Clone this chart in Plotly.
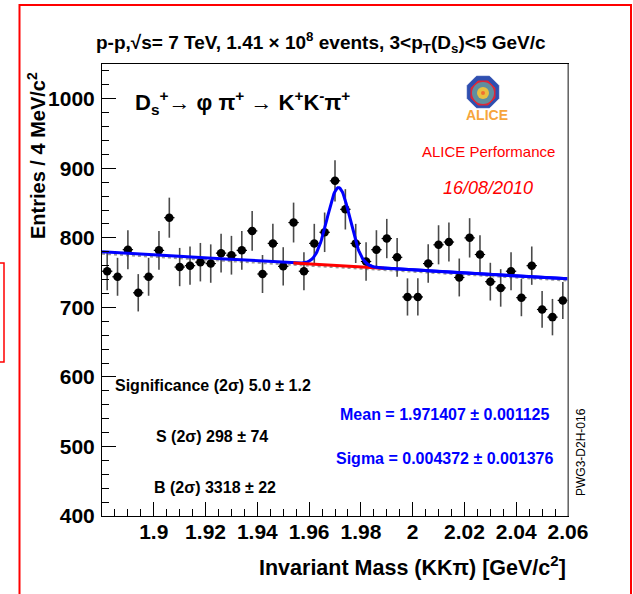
import numpy as np
import plotly.graph_objects as go

# ---------------- data ----------------
bin_width = 0.004
mass_centers = [round(1.882 + bin_width * i, 3) for i in range(45)]
entries = [752, 744, 783, 721, 744, 782, 829, 758, 760, 765,
           763, 778, 775, 782, 810, 748, 792, 759, 822, 752,
           792, 808, 882, 841, 792, 766, 783, 799, 772, 715,
           715, 763, 790, 794, 743, 800, 776, 737, 728, 752,
           714, 760, 697, 686, 710]

bg_left, bg_right = 780.0, 741.0          # total-fit background at 1.88 and 2.06
sb_left, sb_right = 777.0, 738.5          # side-band background fit (grey dotted)
gaus_mean = 1.971407
gaus_sigma = 0.004372
gaus_amp = 112.0

x_range = [1.88, 2.06]
y_range = [400, 1050]
x_tickvals = [1.9, 1.92, 1.94, 1.96, 1.98, 2.0, 2.02, 2.04, 2.06]
x_ticktext = ["1.9", "1.92", "1.94", "1.96", "1.98", "2", "2.02", "2.04", "2.06"]
y_tickvals = [400, 500, 600, 700, 800, 900, 1000]

# ---------------- helpers ----------------
L, R, T, B = 102, 568, 64, 516
W, H = R - L, B - T


def px(x):
    return (x - L) / W


def py(y):
    return (B - y) / H


def lin(x, a, b):
    return a + (b - a) * (np.asarray(x) - x_range[0]) / (x_range[1] - x_range[0])


FONT = "Liberation Sans"

fig = go.Figure()

xs = np.linspace(x_range[0], x_range[1], 600)
# grey dotted side-band fit
fig.add_trace(go.Scatter(x=xs, y=lin(xs, sb_left, sb_right), mode="lines",
                         line=dict(color="#9a9a9a", width=2, dash="dot"),
                         hoverinfo="skip", showlegend=False))

# data with errors
fig.add_trace(go.Scatter(
    x=mass_centers, y=entries, mode="markers",
    marker=dict(color="black", size=8.5),
    error_y=dict(type="data", array=list(np.sqrt(entries)), color="#4a4a4a",
                 thickness=1.6, width=0),
    error_x=dict(type="data", array=[bin_width / 2] * len(entries), color="black",
                 thickness=1.2, width=0),
    showlegend=False))

# total fit (blue)
fig.add_trace(go.Scatter(
    x=xs, y=lin(xs, bg_left, bg_right) + gaus_amp * np.exp(-0.5 * ((xs - gaus_mean) / gaus_sigma) ** 2),
    mode="lines", line=dict(color="#0000ff", width=3), showlegend=False))

# background under the peak (red), mean +- 4 sigma
xr = np.linspace(gaus_mean - 4 * gaus_sigma, gaus_mean + 4 * gaus_sigma, 100)
fig.add_trace(go.Scatter(x=xr, y=lin(xr, bg_left, bg_right), mode="lines",
                         line=dict(color="#ff0000", width=3), showlegend=False))
# redraw blue over the red on the right part like ROOT
xb = xs[xs > gaus_mean + 2.2 * gaus_sigma]
fig.add_trace(go.Scatter(x=xb, y=lin(xb, bg_left, bg_right) + gaus_amp * np.exp(-0.5 * ((xb - gaus_mean) / gaus_sigma) ** 2),
                         mode="lines", line=dict(color="#0000ff", width=3), showlegend=False))

ann = []


def add_text(text, x, y, size, color="black", bold=False, italic=False, xanchor="left", angle=0, family=FONT):
    ann.append(dict(text=text, x=px(x), y=py(y), xref="paper", yref="paper",
                    xanchor=xanchor, yanchor="middle", showarrow=False, textangle=angle,
                    font=dict(family=family, size=size, color=color,
                              weight="bold" if bold else "normal",
                              style="italic" if italic else "normal")))


add_text("p-p,√s= 7 TeV, 1.41 × 10<sup>8</sup> events, 3&lt;p<sub>T</sub>(D<sub>s</sub>)&lt;5 GeV/c",
         321, 42, 19, bold=True, xanchor="center")
add_text("D<sub>s</sub><sup>+</sup>→ φ π<sup>+</sup> → K<sup>+</sup>K<sup>-</sup>π<sup>+</sup>",
         133, 102, 22, bold=True)
add_text("ALICE Performance", 420, 151, 15, color="#ff0000")
add_text("16/08/2010", 441, 188, 18, color="#ff0000", italic=True)
add_text("Significance (2σ) 5.0 ± 1.2", 113, 385, 16, bold=True)
add_text("S (2σ) 298 ± 74", 154, 436, 16, bold=True)
add_text("B (2σ) 3318 ± 22", 152, 487, 16, bold=True)
add_text("Mean = 1.971407 ± 0.001125", 338, 414, 16, color="#0000ff", bold=True)
add_text("Sigma = 0.004372 ± 0.001376", 334, 458, 16, color="#0000ff", bold=True)
add_text("PWG3-D2H-016", 581, 452, 12, angle=-90, xanchor="center")
add_text("ALICE", 487, 115, 14, color="#f6a53c", bold=True, xanchor="center")
# axis titles
add_text("Entries / 4 MeV/c<sup>2</sup>", 36, 156, 20, bold=True, angle=-90, xanchor="center")
ann.append(dict(text="Invariant Mass (KKπ) [GeV/c<sup>2</sup>]", x=px(568), y=py(566),
                xref="paper", yref="paper", xanchor="right", yanchor="middle", showarrow=False,
                font=dict(family=FONT, size=21.5, color="black", weight="bold")))

shapes = []
# outer red frame
shapes.append(dict(type="rect", xref="paper", yref="paper", x0=px(19.5), x1=px(631),
                   y0=py(5), y1=py(600), line=dict(color="#ff0000", width=2), layer="below"))
# small red box at left
shapes.append(dict(type="rect", xref="paper", yref="paper", x0=px(-5), x1=px(4),
                   y0=py(263), y1=py(362), line=dict(color="#ff0000", width=1.5), layer="below"))
# right gray axis line
shapes.append(dict(type="line", xref="paper", yref="paper", x0=1, x1=1, y0=0, y1=1,
                   line=dict(color="#8a8a8a", width=1.5)))


def octagon(cx, cy, r):
    pts = []
    for k in range(8):
        a = np.pi / 8 + k * np.pi / 4
        pts.append((px(cx + r * np.cos(a)), py(cy + r * np.sin(a))))
    return "M " + " L ".join(f"{a:.5f},{b:.5f}" for a, b in pts) + " Z"


shapes.append(dict(type="path", xref="paper", yref="paper", path=octagon(483, 92, 17),
                   fillcolor="#2f4fb0", line=dict(color="#2f4fb0", width=1)))
shapes.append(dict(type="path", xref="paper", yref="paper", path=octagon(483, 93, 13),
                   fillcolor="#d8283a", line=dict(color="#d8283a", width=1)))
shapes.append(dict(type="circle", xref="paper", yref="paper", x0=px(472), x1=px(494),
                   y0=py(82), y1=py(104), fillcolor="#5f8fa0", line=dict(width=0)))
shapes.append(dict(type="circle", xref="paper", yref="paper", x0=px(477), x1=px(489),
                   y0=py(87), y1=py(99), fillcolor="#e8c040", line=dict(width=0)))
shapes.append(dict(type="circle", xref="paper", yref="paper", x0=px(481), x1=px(485),
                   y0=py(91), y1=py(95), fillcolor="#f07030", line=dict(width=0)))

fig.update_layout(
    width=633, height=594,
    margin=dict(l=L, r=633 - R, t=T, b=594 - B),
    paper_bgcolor="white", plot_bgcolor="white",
    annotations=ann, shapes=shapes,
    xaxis=dict(range=x_range, tickvals=x_tickvals, ticktext=x_ticktext,
               ticks="inside", ticklen=14, tickwidth=1, tickcolor="black",
               showgrid=False, zeroline=False, showline=True, linecolor="black",
               linewidth=1, mirror=True, ticklabelstandoff=-3,
               tickfont=dict(family=FONT, size=21, color="black", weight="bold"),
               minor=dict(dtick=0.005, tick0=1.88, ticks="inside", ticklen=7,
                          tickcolor="black", showgrid=False)),
    yaxis=dict(range=y_range, tickvals=y_tickvals,
               ticks="inside", ticklen=14, tickwidth=1, tickcolor="black",
               showgrid=False, zeroline=False, showline=True, linecolor="black",
               linewidth=1, mirror=True, ticklabelstandoff=2,
               tickfont=dict(family=FONT, size=21, color="black", weight="bold"),
               minor=dict(dtick=20, tick0=400, ticks="inside", ticklen=7,
                          tickcolor="black", showgrid=False)),
)

fig.write_html("out.html")
